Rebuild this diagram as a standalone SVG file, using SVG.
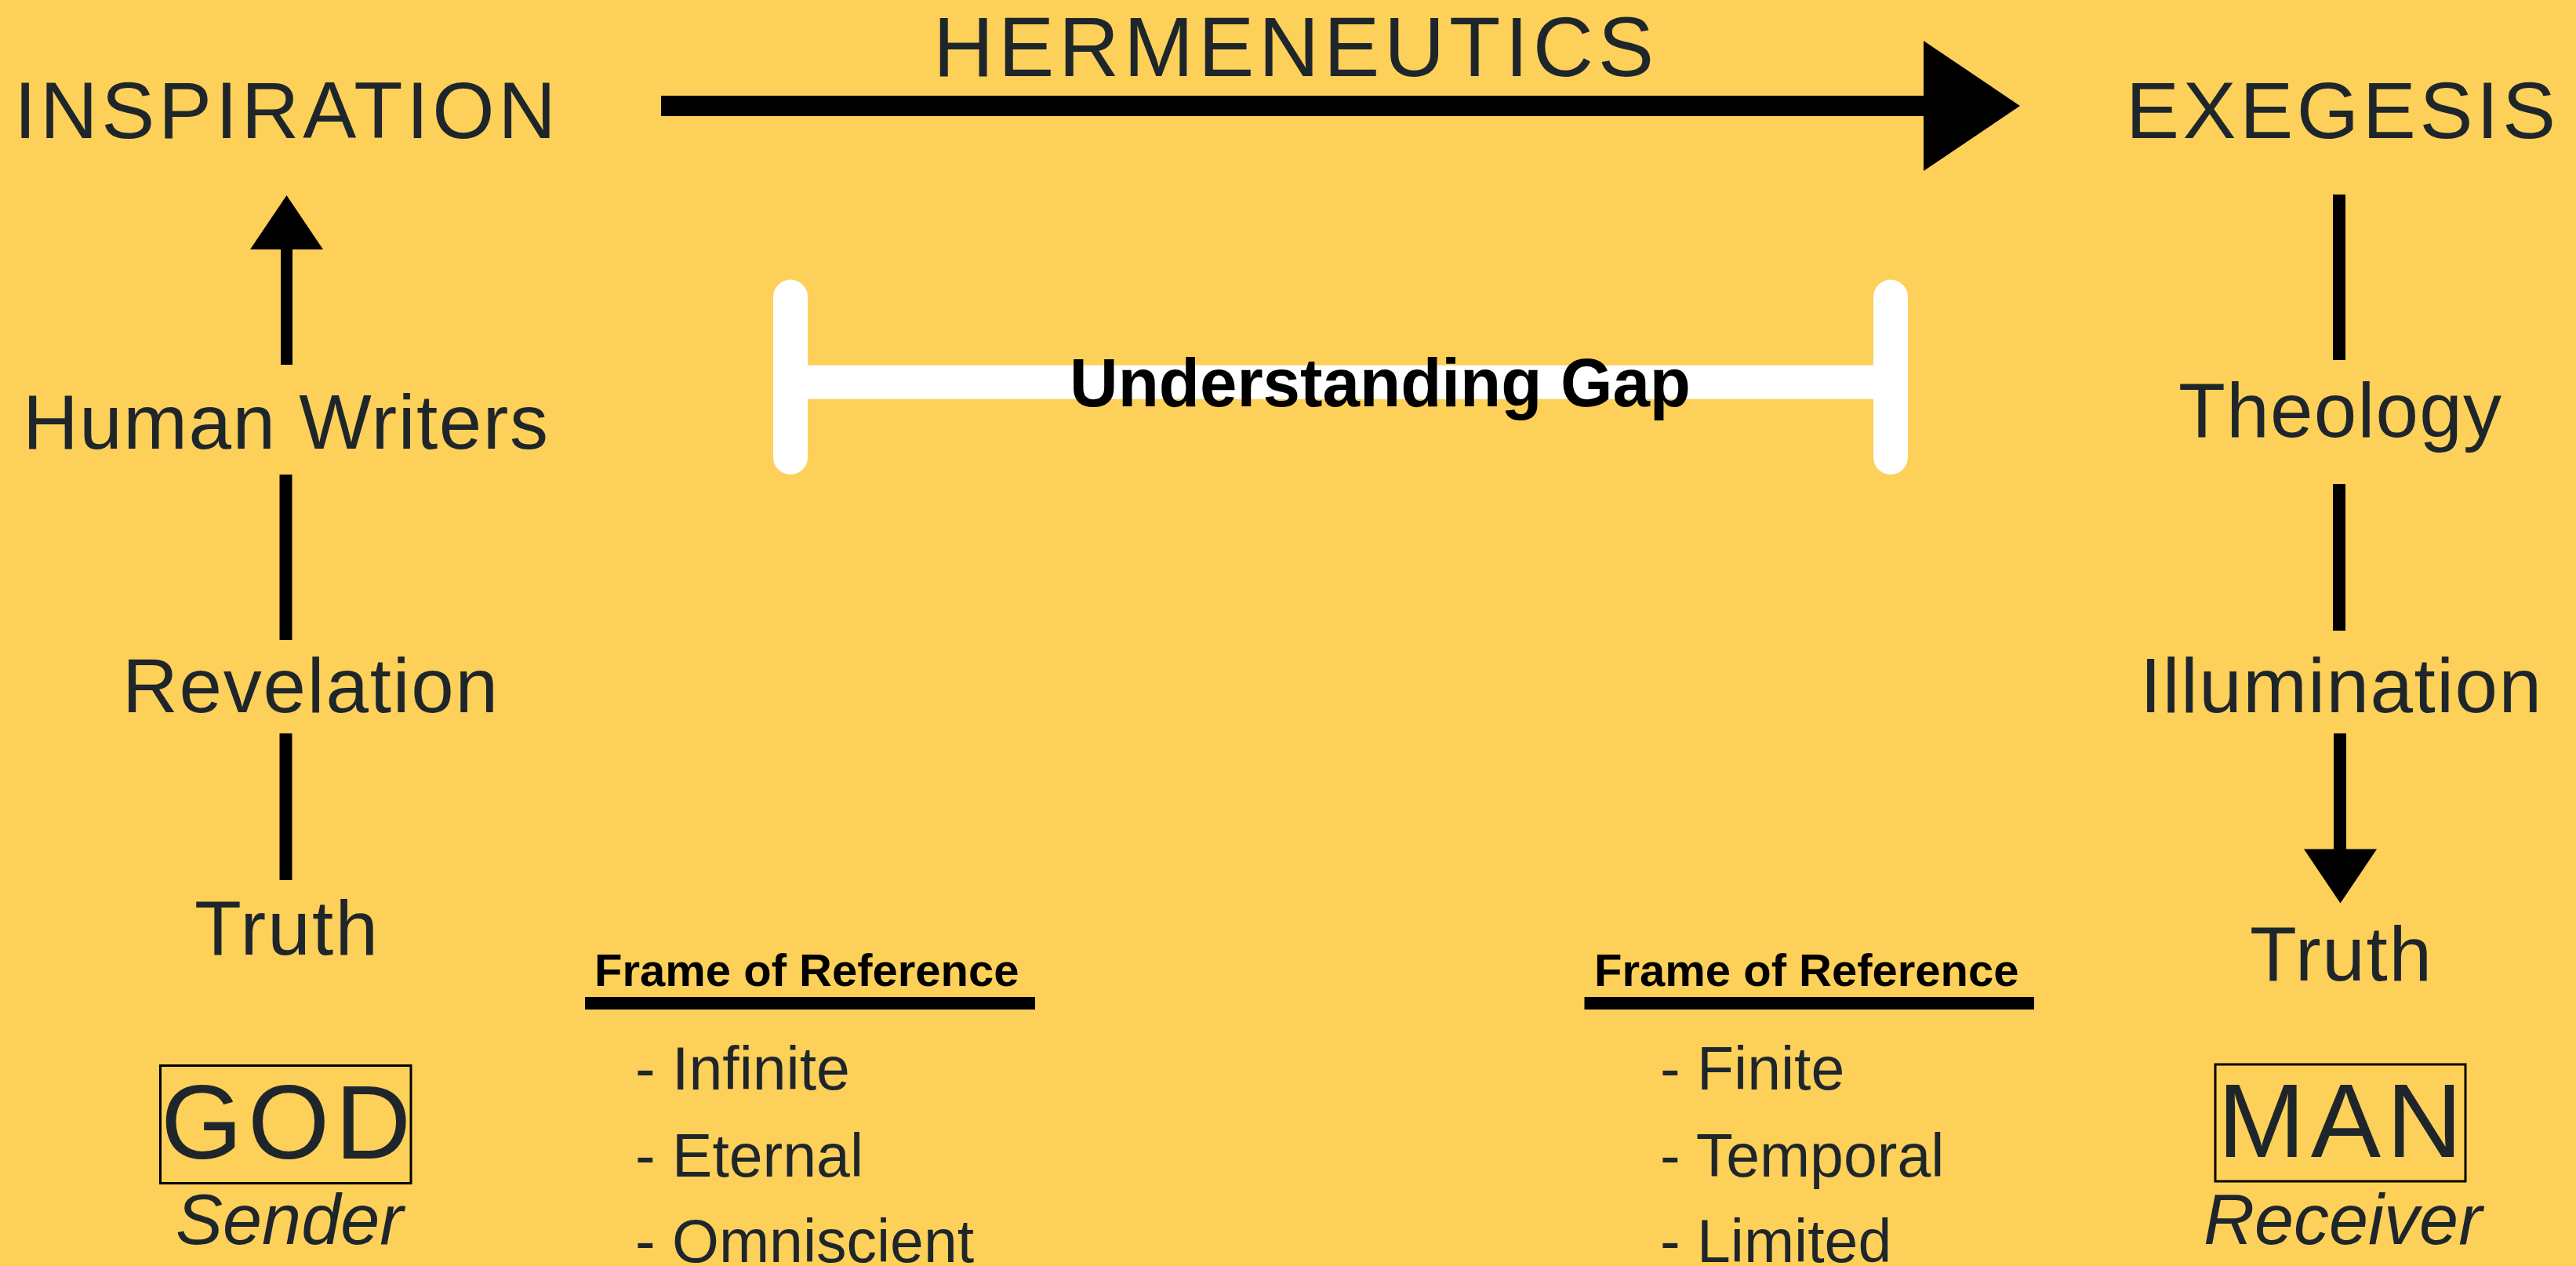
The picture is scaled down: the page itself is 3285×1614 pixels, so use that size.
<svg xmlns="http://www.w3.org/2000/svg" width="3285" height="1614" viewBox="0 0 3285 1614">
<style>
.t{font-family:"Liberation Sans",Arial,Helvetica,sans-serif;fill:#1E262B}
.big{font-size:102px}
.lbl{font-size:98px}
.god{font-size:134px}
.role{font-size:90px;font-style:italic}
.b{font-weight:bold;fill:#000}
.fr{font-size:58px}
.li{font-size:77px}
.box{fill:none;stroke:#000;stroke-width:3}
.seg{stroke:#000;stroke-width:16;fill:none}
.gap{stroke:#fff;stroke-width:44;stroke-linecap:round;fill:none}
</style>
<rect width="3285" height="1614" fill="#FDD05A"/>

<g id="connectors">
  <g id="hermeneutics-arrow">
    <rect x="843" y="122" width="1612" height="26" fill="#000"/>
    <polygon points="2453,52 2576,135 2453,218" fill="#000"/>
  </g>
  <g id="left-chain">
    <line class="seg" x1="365.5" y1="465" x2="365.5" y2="316" style="stroke-width:15"/>
    <polygon points="319,318 412,318 365.5,249" fill="#000"/>
    <line class="seg" x1="364.5" y1="605" x2="364.5" y2="816"/>
    <line class="seg" x1="364.5" y1="935" x2="364.5" y2="1122"/>
  </g>
  <g id="right-chain">
    <line class="seg" x1="2983" y1="248" x2="2983" y2="459"/>
    <line class="seg" x1="2983" y1="617" x2="2983" y2="804"/>
    <line class="seg" x1="2984" y1="935" x2="2984" y2="1085"/>
    <polygon points="2938,1082.5 3031,1082.5 2984.5,1151.5" fill="#000"/>
  </g>
</g>

<g id="understanding-gap">
  <line class="gap" x1="1008" y1="378.5" x2="1008" y2="583"/>
  <line class="gap" x1="2411" y1="378.5" x2="2411" y2="583"/>
  <rect x="1008" y="465.7" width="1403" height="43" fill="#fff"/>
  <text class="t b" x="1364" y="518" font-size="87" textLength="792" lengthAdjust="spacingAndGlyphs">Understanding Gap</text>
</g>

<g id="node-hermeneutics"><text class="t" x="1190" y="97" font-size="107" textLength="919">HERMENEUTICS</text></g>
<g id="node-inspiration"><text class="t big" x="18" y="176" textLength="691">INSPIRATION</text></g>
<g id="node-exegesis"><text class="t big" x="2711" y="176" textLength="548">EXEGESIS</text></g>

<g id="node-human-writers"><text class="t lbl" x="29" y="572" textLength="670">Human Writers</text></g>
<g id="node-revelation"><text class="t lbl" x="156" y="908" textLength="479">Revelation</text></g>
<g id="node-truth-left"><text class="t lbl" x="248" y="1217" textLength="234">Truth</text></g>

<g id="node-theology"><text class="t lbl" x="2778" y="557" textLength="412">Theology</text></g>
<g id="node-illumination"><text class="t lbl" x="2729" y="908" textLength="512">Illumination</text></g>
<g id="node-truth-right"><text class="t lbl" x="2869" y="1250" textLength="232">Truth</text></g>

<g id="node-god">
  <rect class="box" x="204.5" y="1358.5" width="319.5" height="150"/>
  <text class="t god" x="205" y="1477" textLength="319">GOD</text>
  <text class="t role" x="224" y="1586">Sender</text>
</g>
<g id="node-man">
  <rect class="box" x="2825" y="1357" width="319" height="149"/>
  <text class="t god" x="2828" y="1475" textLength="312">MAN</text>
  <text class="t role" x="2810" y="1586">Receiver</text>
</g>

<g id="frame-left">
  <text class="t b fr" x="758" y="1257">Frame of Reference</text>
  <rect x="746" y="1271" width="574" height="16" fill="#000"/>
  <text class="t li" x="810" y="1389">- Infinite</text>
  <text class="t li" x="810" y="1500">- Eternal</text>
  <text class="t li" x="810" y="1609">- Omniscient</text>
</g>
<g id="frame-right">
  <text class="t b fr" x="2033" y="1257">Frame of Reference</text>
  <rect x="2020.5" y="1271" width="573.5" height="16" fill="#000"/>
  <text class="t li" x="2117" y="1389">- Finite</text>
  <text class="t li" x="2117" y="1500">- Temporal</text>
  <text class="t li" x="2117" y="1609">- Limited</text>
</g>
</svg>
